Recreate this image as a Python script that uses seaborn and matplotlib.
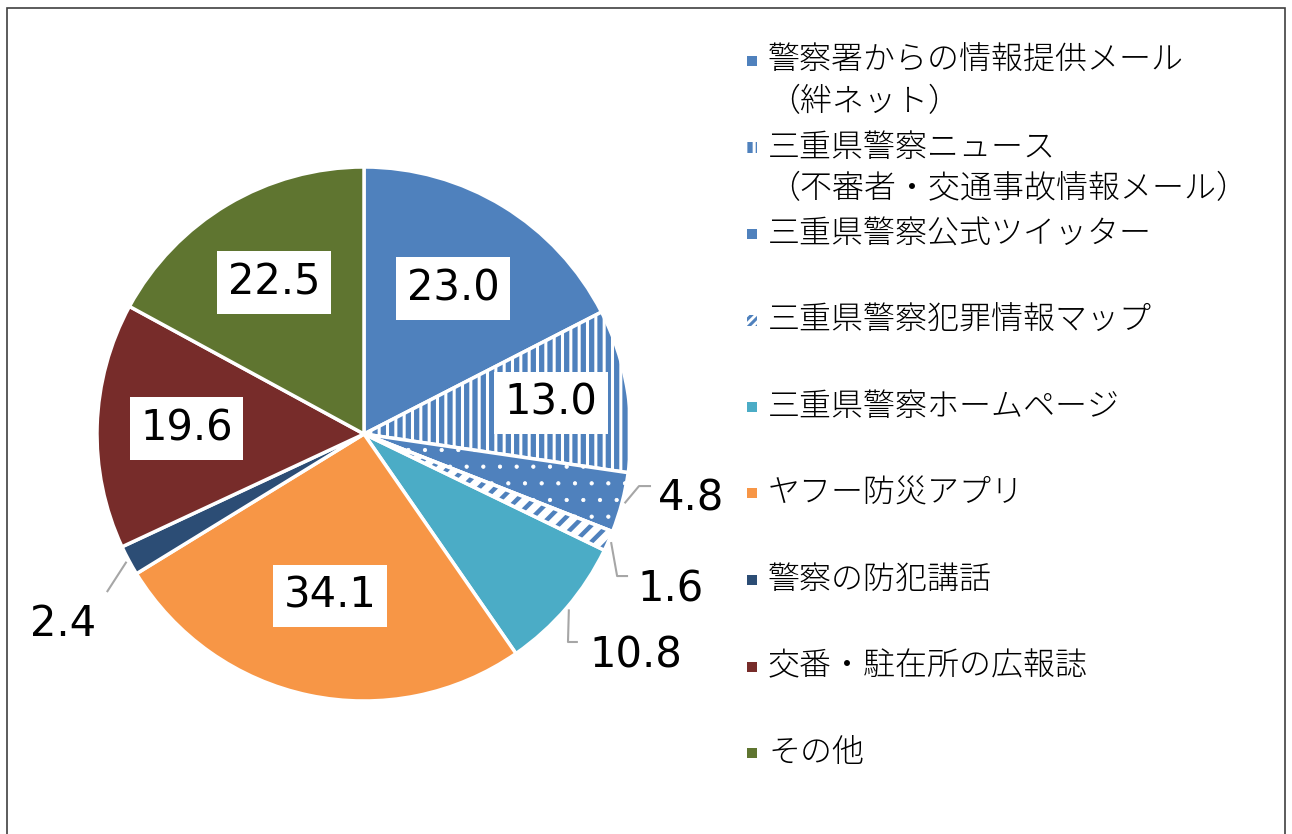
import numpy as np
import matplotlib
matplotlib.use('Agg')
import matplotlib.pyplot as plt
from matplotlib.patches import Wedge, Rectangle
import seaborn as sns

# 情報の入手先（複数回答）
labels = ['警察署からの情報提供メール\n（絆ネット）',
          '三重県警察ニュース\n（不審者・交通事故情報メール）',
          '三重県警察公式ツイッター',
          '三重県警察犯罪情報マップ',
          '三重県警察ホームページ',
          'ヤフー防災アプリ',
          '警察の防犯講話',
          '交番・駐在所の広報誌',
          'その他']
values = [23.0, 13.0, 4.8, 1.6, 10.8, 34.1, 2.4, 19.6, 22.5]
colors = ['#4F81BD', '#4F81BD', '#4F81BD', '#FFFFFF', '#4BACC6',
          '#F79646', '#2C4D75', '#772C2A', '#5F7530']
hatches = [None, '||', '.', '//', None, None, None, None, None]
hatch_colors = [None, 'white', 'white', '#4F81BD', None, None, None, None, None]
legend_hatches = [None, '||', None, '////', None, None, None, None, None]
outside = [False, False, True, True, True, False, True, False, False]
# 内側ラベルの中心までの距離（半径=1）
label_dist = [0.64, 0.71, None, None, None, 0.62, None, 0.665, 0.66]
# 外側ラベル: (折れ点, 線の終点, 文字位置)  円の半径=1 基準
outer_layout = {
    2: ((1.030, -0.195), (1.075, -0.195), (1.100, -0.243)),
    3: ((0.948, -0.532), (0.989, -0.532), (1.025, -0.581)),
    4: ((0.764, -0.779), (0.801, -0.779), (0.845, -0.831)),
    6: (None, (-0.963, -0.592), (-1.127, -0.712)),
}

sns.set_theme(style='white')
plt.rcParams['font.family'] = ['Noto Sans CJK JP', 'DejaVu Sans']
plt.rcParams['hatch.linewidth'] = 2.2

fig = plt.figure(figsize=(12.92, 8.34), dpi=100)
R = 267
cx, cy = 364, 434
W, H = 1292, 834
ax = fig.add_axes([(cx - 1.5 * R) / W, (H - cy - 1.5 * R) / H, 3 * R / W, 3 * R / H])

wedges, _ = ax.pie(values, colors=colors, startangle=90, counterclock=False,
                   wedgeprops=dict(edgecolor='white', linewidth=2.5))
ax.set_xlim(-1.5, 1.5)
ax.set_ylim(-1.5, 1.5)
ax.axis('off')

for i, w in enumerate(wedges):
    if hatches[i] is None:
        continue
    if colors[i] == '#FFFFFF':
        ov = Wedge(w.center, w.r, w.theta1, w.theta2, fill=False,
                   hatch=hatches[i], edgecolor=hatch_colors[i], linewidth=0)
        if hasattr(ov, 'set_hatch_linewidth'):
            ov.set_hatch_linewidth(3.2)
        ax.add_patch(ov)
        ax.add_patch(Wedge(w.center, w.r, w.theta1, w.theta2, fill=False,
                           edgecolor='white', linewidth=2.5))
    else:
        w.set_hatch(hatches[i])
        w.set_edgecolor(hatch_colors[i])
        if i == 2 and hasattr(w, 'set_hatch_linewidth'):
            w.set_hatch_linewidth(0.6)

num_font = dict(family='DejaVu Sans', fontsize=30, color='black')
for i, w in enumerate(wedges):
    mid = np.deg2rad((w.theta1 + w.theta2) / 2)
    txt = f'{values[i]:.1f}'
    if not outside[i]:
        d = label_dist[i]
        ax.text(d * np.cos(mid), d * np.sin(mid), txt, ha='center', va='center',
                bbox=dict(boxstyle='square,pad=0.25', fc='white', ec='none'), **num_font)
    else:
        elbow, end, tpos = outer_layout[i]
        start = (1.01 * np.cos(mid), 1.01 * np.sin(mid))
        pts = [start] + ([elbow] if elbow else []) + [end]
        ax.plot([p[0] for p in pts], [p[1] for p in pts], color='#A6A6A6', lw=1.5,
                solid_capstyle='butt')
        ax.text(tpos[0], tpos[1], txt, ha='left' if tpos[0] > 0 else 'center',
                va='center', **num_font)

# 凡例
lx, ly0, step, lh = 768, 61, 86.5, 41
for i, lab in enumerate(labels):
    yc = ly0 + i * step
    fig.add_artist(Rectangle(((lx - 21) / W, 1 - (yc + 5) / H), 10 / W, 10 / H,
                             transform=fig.transFigure,
                             facecolor=colors[i],
                             edgecolor=hatch_colors[i] if legend_hatches[i] else 'none',
                             hatch=legend_hatches[i], linewidth=0))
    for j, line in enumerate(lab.split('\n')):
        fig.text(lx / W, 1 - (yc + j * lh) / H, line, ha='left', va='center',
                 fontsize=23, fontweight='light', color='black')

fig.add_artist(Rectangle((7 / W, -0.02), (1285 - 7) / W, 1 - 8 / H + 0.02,
                         transform=fig.transFigure, fill=False, edgecolor='#404040', linewidth=1.2))

fig.savefig('out.png', dpi=100)
